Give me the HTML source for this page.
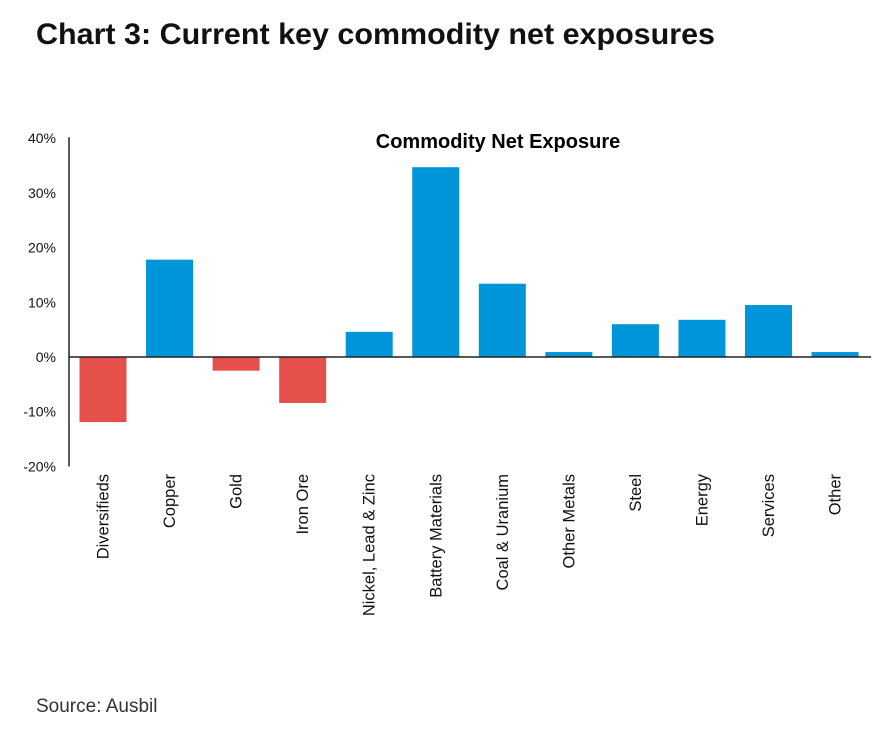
<!DOCTYPE html>
<html><head><meta charset="utf-8"><style>
body{margin:0;background:#fff;width:883px;height:726px;overflow:hidden;font-family:"Liberation Sans",Arial,sans-serif}
</style></head><body>
<svg width="883" height="726" id="svg" font-family="Liberation Sans, Arial, sans-serif">
<text x="36" y="44" font-size="30" font-weight="bold" fill="#111" textLength="679" lengthAdjust="spacingAndGlyphs">Chart 3: Current key commodity net exposures</text>
<text x="498" y="148" font-size="20" font-weight="bold" text-anchor="middle" fill="#000">Commodity Net Exposure</text>
<text x="36" y="712" font-size="19" fill="#333">Source: Ausbil</text>
<g id="g"></g>
</svg>
<script>
const categories=["Diversifieds","Copper","Gold","Iron Ore","Nickel, Lead & Zinc","Battery Materials","Coal & Uranium","Other Metals","Steel","Energy","Services","Other"];
const values=[-11.9,17.8,-2.5,-8.4,4.6,34.7,13.4,0.9,6.0,6.8,9.5,0.9];
const ticks=[40,30,20,10,0,-10,-20];
const NS="http://www.w3.org/2000/svg",g=document.getElementById('g');
const y=v=>357-v*5.47;
const x0=69,step=66.55,bw=47;
const cx=i=>103+i*step;
function mk(t,a){const e=document.createElementNS(NS,t);for(const k in a)e.setAttribute(k,a[k]);g.appendChild(e);return e;}
ticks.forEach(t=>{const e=mk('text',{x:56,y:y(t)+5,'font-size':14,'text-anchor':'end',fill:'#111'});e.textContent=t+'%';

});
values.forEach((v,i)=>{const r=mk('rect',{x:cx(i)-bw/2,y:Math.min(y(v),y(0)),width:bw,height:Math.abs(y(v)-y(0)),fill:v<0?'#e6504a':'#0095d8'});


const t=mk('text',{transform:`translate(${cx(i)+5.5},474) rotate(-90)`,'font-size':16.5,'text-anchor':'end',fill:'#111'});t.textContent=categories[i];

});
const ax=mk('line',{x1:x0,x2:x0,y1:y(40)-1,y2:y(-20),stroke:'#222','stroke-width':1.5});


const zl=mk('line',{x1:x0,x2:871,y1:y(0),y2:y(0),stroke:'#222','stroke-width':1.5});


</script>
</body></html>
